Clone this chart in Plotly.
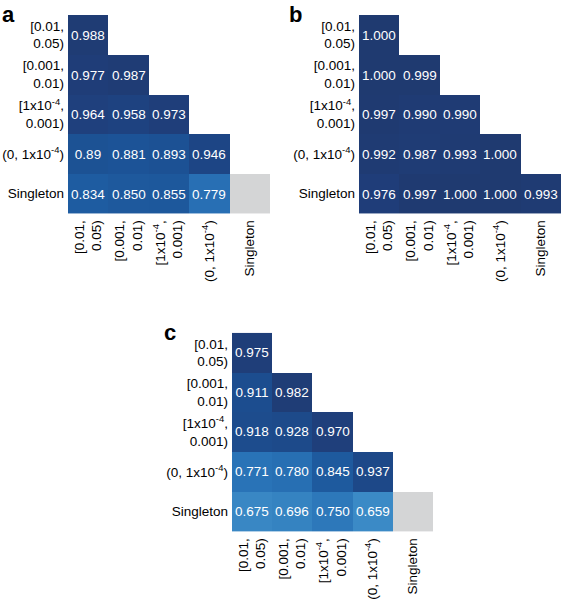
import plotly.graph_objects as go

categories = ["[0.01,<br>0.05)", "[0.001,<br>0.01)", "[1x10<sup>-4</sup>,<br>0.001)",
              "(0, 1x10<sup>-4</sup>)", "Singleton"]

# lower-triangle values, rows top->bottom, columns left->right (None = empty, "NA" = grey)
panel_a = [
    ["0.988", None, None, None, None],
    ["0.977", "0.987", None, None, None],
    ["0.964", "0.958", "0.973", None, None],
    ["0.89", "0.881", "0.893", "0.946", None],
    ["0.834", "0.850", "0.855", "0.779", "NA"],
]
panel_b = [
    ["1.000", None, None, None, None],
    ["1.000", "0.999", None, None, None],
    ["0.997", "0.990", "0.990", None, None],
    ["0.992", "0.987", "0.993", "1.000", None],
    ["0.976", "0.997", "1.000", "1.000", "0.993"],
]
panel_c = [
    ["0.975", None, None, None, None],
    ["0.911", "0.982", None, None, None],
    ["0.918", "0.928", "0.970", None, None],
    ["0.771", "0.780", "0.845", "0.937", None],
    ["0.675", "0.696", "0.750", "0.659", "NA"],
]
panel_letters = ["a", "b", "c"]

W, H = 562, 600
# pixel boxes of each heatmap: (left, right, top, bottom)
boxes = [(68, 270, 15, 215), (359, 561, 15, 215), (232, 433, 335, 535)]
letter_pos = [(0, 0), (287, 0), (162, 320)]

colorscale = [
    [0.0, "#4a97cf"],
    [0.15, "#3b8ac6"],
    [0.42, "#2a74b8"],
    [0.55, "#1f5ea4"],
    [0.72, "#1c5295"],
    [0.85, "#1d4787"],
    [0.93, "#1f3e7a"],
    [1.0, "#1f3a70"],
]
FONT = "Liberation Sans, Arial, Helvetica, sans-serif"

fig = go.Figure()
layout = dict(width=W, height=H, margin=dict(l=0, r=0, t=0, b=0),
              paper_bgcolor="white", plot_bgcolor="white",
              font=dict(family=FONT, color="black"), showlegend=False)

annotations = []
for i, panel in enumerate([panel_a, panel_b, panel_c]):
    ax = "" if i == 0 else str(i + 1)
    z, txt, grey = [], [], []
    for row in panel:
        zr, tr, gr = [], [], []
        for v in row:
            if v is None:
                zr.append(None); tr.append(""); gr.append(None)
            elif v == "NA":
                zr.append(None); tr.append(""); gr.append(1)
            else:
                zr.append(float(v)); tr.append(v); gr.append(None)
        z.append(zr); txt.append(tr); grey.append(gr)
    xs = list(range(5))
    fig.add_trace(go.Heatmap(
        z=z, x=xs, y=xs, text=txt, texttemplate="%{text}",
        textfont=dict(family=FONT, size=13.5, color="white"),
        colorscale=colorscale, zmin=0.6, zmax=1.0, showscale=False,
        xgap=0, ygap=0, hoverinfo="skip",
        xaxis="x" + ax, yaxis="y" + ax))
    fig.add_trace(go.Heatmap(
        z=grey, x=xs, y=xs, colorscale=[[0, "#d4d5d6"], [1, "#d4d5d6"]],
        showscale=False, hoverinfo="skip", xaxis="x" + ax, yaxis="y" + ax))
    l, r, t, b = boxes[i]
    layout["xaxis" + ax] = dict(
        domain=[l / W, r / W], range=[-0.5, 4.5], tickmode="array",
        tickvals=xs, ticktext=categories, tickangle=-90, showgrid=False,
        zeroline=False, showline=False, ticks="", ticklabelstandoff=3,
        tickfont=dict(family=FONT, size=13.5, color="black"),
        anchor="y" + ax, fixedrange=True)
    layout["yaxis" + ax] = dict(
        domain=[1 - b / H, 1 - t / H], range=[4.5, -0.5], tickmode="array",
        tickvals=xs, ticktext=categories, showgrid=False,
        zeroline=False, showline=False, ticks="", ticklabelstandoff=3,
        tickfont=dict(family=FONT, size=13.5, color="black"),
        anchor="x" + ax, fixedrange=True)
    lx, ly = letter_pos[i]
    annotations.append(dict(text="<b>" + panel_letters[i] + "</b>", x=lx / W, y=1 - ly / H,
                            xref="paper", yref="paper", xanchor="left", yanchor="top",
                            showarrow=False, font=dict(family=FONT, size=22, color="black")))

layout["annotations"] = annotations
fig.update_layout(**layout)
fig.write_html("out.html", config={"displayModeBar": False},
               post_script="document.body.style.margin='0';document.body.style.padding='0';")
